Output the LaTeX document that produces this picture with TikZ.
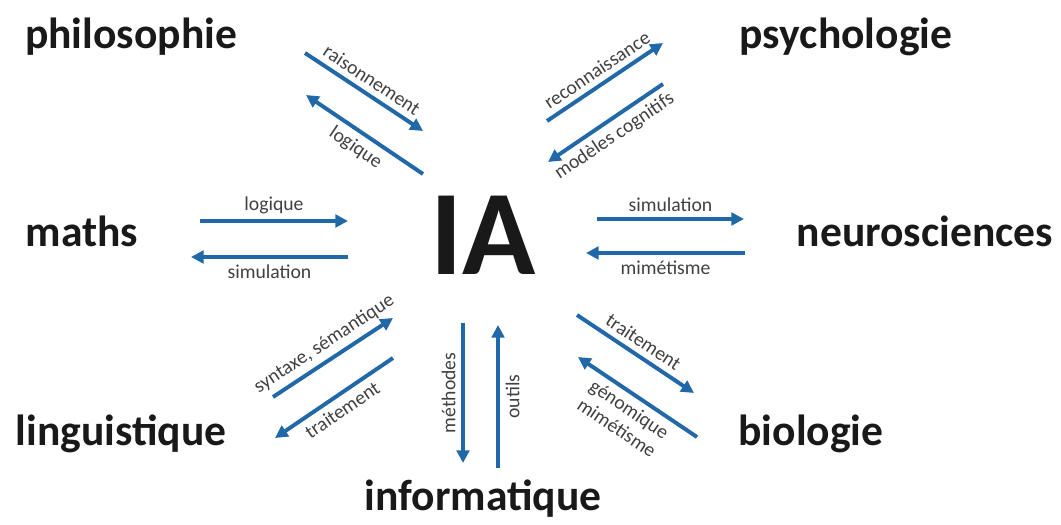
\documentclass[tikz,border=0pt]{standalone}
\usepackage{fontspec}
\setmainfont{Carlito}
\usetikzlibrary{arrows.meta}
\definecolor{iablue}{RGB}{33,104,168}
\definecolor{lblgray}{RGB}{64,64,64}

\begin{document}
\begin{tikzpicture}[x=.25cm, y=.25cm,
  field/.style={anchor=base, text=black!90, font=\bfseries\fontsize{31}{36}\selectfont},
  link/.style={iablue, line width=2.8pt, -{Triangle[length=9pt, width=9pt]}},
  lbl/.style={midway, sloped, text=lblgray, inner sep=4pt, font=\fontsize{14}{16}\selectfont}]
\useasboundingbox (0,0) rectangle (106.1,52.4);
% the disciplines round IA
\node[field] (ia) at (48.3,24.9) {\fontsize{86}{90}\selectfont IA};
\node[field] (philo) at (13.1,47.5) {philosophie};
\node[field] (psycho) at (84.6,47.5) {psychologie};
\node[field] (maths) at (8.2,27.7) {maths};
\node[field] (neuro) at (92.5,27.7) {neurosciences};
\node[field] (ling) at (12.1,7.9) {linguistique};
\node[field] (bio) at (81.1,7.9) {biologie};
\node[field] (info) at (48.3,1.4) {informatique};
% arrow ends
\foreach \n/\x/\y in {phi1a/30.5/47.1, phi1b/42.3/39.3, phi2a/42.3/35.0, phi2b/30.6/42.9,
    psy1a/54.7/40.3, psy1b/66.3/48.1, psy2a/66.3/44.0, psy2b/54.8/36.2,
    mat1a/20.0/30.3, mat1b/34.8/30.3, mat2a/34.8/26.7, mat2b/19.1/26.7,
    neu1a/59.7/30.5, neu1b/74.4/30.5, neu2a/74.5/27.1, neu2b/58.6/27.1,
    lin1a/27.3/12.7, lin1b/39.3/20.6, lin2a/39.3/16.6, lin2b/27.5/8.6,
    inf1a/46.3/20.1, inf1b/46.3/6.1, inf2a/49.8/5.6, inf2b/49.8/19.9,
    bio1a/57.7/20.9, bio1b/69.4/13.1, bio2a/69.7/8.7, bio2b/57.8/16.7}
  \coordinate (\n) at (\x,\y);
% exchanges
\draw[link] (phi1a) -- (phi1b) node[lbl, above] {raisonnement};
\draw[link] (phi2a) -- (phi2b) node[lbl, below] {logique};
\draw[link] (psy1a) -- (psy1b) node[lbl, above] {reconnaissance};
\draw[link] (psy2a) -- (psy2b) node[lbl, below] {modèles cognitifs};
\draw[link] (mat1a) -- (mat1b) node[lbl, above] {logique};
\draw[link] (mat2a) -- (mat2b) node[lbl, below] {simulation};
\draw[link] (neu1a) -- (neu1b) node[lbl, above] {simulation};
\draw[link] (neu2a) -- (neu2b) node[lbl, below] {mimétisme};
\draw[link] (lin1a) -- (lin1b) node[lbl, above] {syntaxe, sémantique};
\draw[link] (lin2a) -- (lin2b) node[lbl, below] {traitement};
\draw[link] (inf1a) -- (inf1b) node[lbl, sloped=false, rotate=90, above] {méthodes};
\draw[link] (inf2a) -- (inf2b) node[lbl, below] {outils};
\draw[link] (bio1a) -- (bio1b) node[lbl, above] {traitement};
\draw[link] (bio2a) -- (bio2b) node[lbl, below, align=center] {génomique\\mimétisme};
\end{tikzpicture}
\end{document}
